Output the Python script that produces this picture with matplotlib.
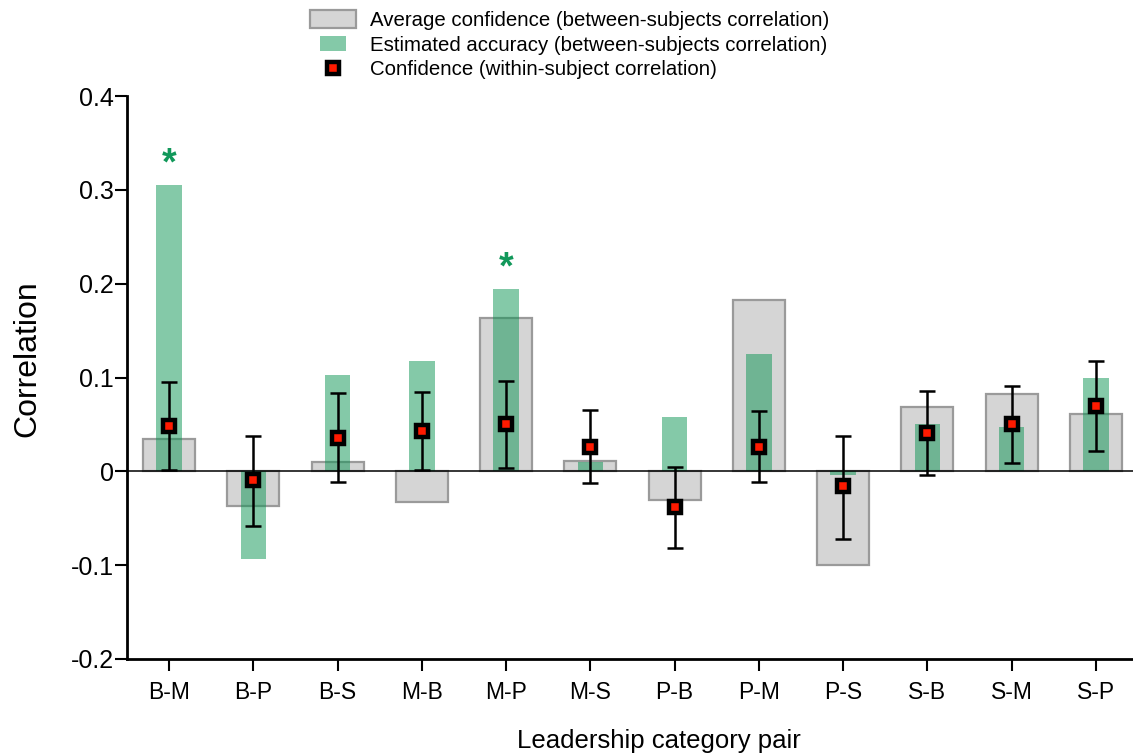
import matplotlib
matplotlib.use("Agg")
import matplotlib.pyplot as plt
import numpy as np
from matplotlib.patches import Rectangle, Patch
from matplotlib.lines import Line2D
from matplotlib.legend_handler import HandlerPatch

plt.rcParams['font.family'] = ['Liberation Sans', 'DejaVu Sans']

categories = ['B-M', 'B-P', 'B-S', 'M-B', 'M-P', 'M-S',
              'P-B', 'P-M', 'P-S', 'S-B', 'S-M', 'S-P']
avg_conf = [0.034, -0.037, 0.010, -0.033, 0.163, 0.011,
            -0.031, 0.183, -0.100, 0.069, 0.082, 0.061]
est_acc = [0.305, -0.093, 0.103, 0.118, 0.194, 0.010,
           0.058, 0.125, -0.004, 0.050, 0.047, 0.100]
within_conf = [0.048, -0.009, 0.036, 0.043, 0.050, 0.026,
               -0.038, 0.026, -0.016, 0.041, 0.050, 0.070]
ci_low = [0.001, -0.058, -0.011, 0.001, 0.004, -0.012,
          -0.082, -0.011, -0.072, -0.004, 0.009, 0.022]
ci_high = [0.095, 0.038, 0.083, 0.085, 0.096, 0.065,
           0.005, 0.064, 0.038, 0.086, 0.091, 0.118]
significant = [True, False, False, False, True, False,
               False, False, False, False, False, False]
y_ticks = [-0.2, -0.1, 0, 0.1, 0.2, 0.3, 0.4]
y_tick_labels = ['-0.2', '-0.1', '0', '0.1', '0.2', '0.3', '0.4']

GRAY_FACE = '#d5d5d5'
GRAY_EDGE = '#9a9a9a'
GREEN = '#05924f'
GREEN_ALPHA = 0.49
STAR_GREEN = '#11985a'

W, H = 1133, 754
fig = plt.figure(figsize=(W / 100, H / 100), dpi=100)
ax = fig.add_axes([127 / W, 1 - 659 / H, (1138 - 127) / W, 563 / H])

x = np.arange(len(categories))
ax.bar(x, avg_conf, width=0.62, color=GRAY_FACE, edgecolor=GRAY_EDGE,
       linewidth=1.6, zorder=2)
ax.bar(x, est_acc, width=0.30, color=GREEN, alpha=GREEN_ALPHA,
       linewidth=0, zorder=3)
ax.axhline(0, color='black', linewidth=1.1, zorder=4)

wc = np.array(within_conf)
yerr = np.vstack([wc - np.array(ci_low), np.array(ci_high) - wc])
ax.errorbar(x, wc, yerr=yerr, fmt='none', ecolor='black', elinewidth=1.8,
            capsize=5.6, capthick=1.8, zorder=5)
ax.plot(x, wc, linestyle='none', marker='s', markersize=9,
        markerfacecolor='#ff1a00', markeredgecolor='black',
        markeredgewidth=3.2, zorder=6)

for xi, sig, acc in zip(x, significant, est_acc):
    if sig:
        ax.text(xi, acc + 0.003, '*', ha='center', va='bottom',
                fontsize=27, fontweight='bold', color=STAR_GREEN, zorder=7)

ax.set_xlim(-0.5, 11.5)
ax.set_ylim(-0.2, 0.4)
ax.set_xticks(x)
ax.set_xticklabels(categories)
ax.set_yticks(y_ticks)
ax.set_yticklabels(y_tick_labels)
for s in ['top', 'right']:
    ax.spines[s].set_visible(False)
for s in ['left', 'bottom']:
    ax.spines[s].set_linewidth(2.0)
ax.tick_params(axis='both', direction='out', length=8.5, width=1.5)
ax.tick_params(axis='x', pad=7, labelsize=16.5)
ax.tick_params(axis='y', pad=1, labelsize=18)
ax.set_ylabel('Correlation', fontsize=23)
ax.yaxis.set_label_coords(-0.084, 0.533)
ax.set_xlabel('Leadership category pair', fontsize=18.5)
ax.xaxis.set_label_coords(0.526, -0.124)


def gray_handle(legend, orig_handle, xdescent, ydescent, width, height, fontsize):
    return Rectangle((-xdescent, -ydescent - 1), width, height + 2)


def green_handle(legend, orig_handle, xdescent, ydescent, width, height, fontsize):
    return Rectangle((-xdescent + width * 0.22, -ydescent), width * 0.56, height)


h_gray = Patch(facecolor=GRAY_FACE, edgecolor=GRAY_EDGE, linewidth=1.6)
h_green = Patch(facecolor=GREEN, alpha=GREEN_ALPHA, linewidth=0)
h_mark = Line2D([], [], linestyle='none', marker='s', markersize=9,
                markerfacecolor='#ff1a00', markeredgecolor='black',
                markeredgewidth=3.2)
leg = fig.legend([h_gray, h_green, h_mark],
                 ['Average confidence (between-subjects correlation)',
                  'Estimated accuracy (between-subjects correlation)',
                  'Confidence (within-subject correlation)'],
                 handler_map={h_gray: HandlerPatch(patch_func=gray_handle),
                              h_green: HandlerPatch(patch_func=green_handle)},
                 loc='upper left', bbox_to_anchor=(310 / W, 1 - 11 / H),
                 frameon=False, fontsize=14.7, handlelength=2.25,
                 handleheight=0.75, handletextpad=0.7, labelspacing=0.28,
                 borderpad=0, borderaxespad=0)

fig.savefig('out.png', dpi=100)
